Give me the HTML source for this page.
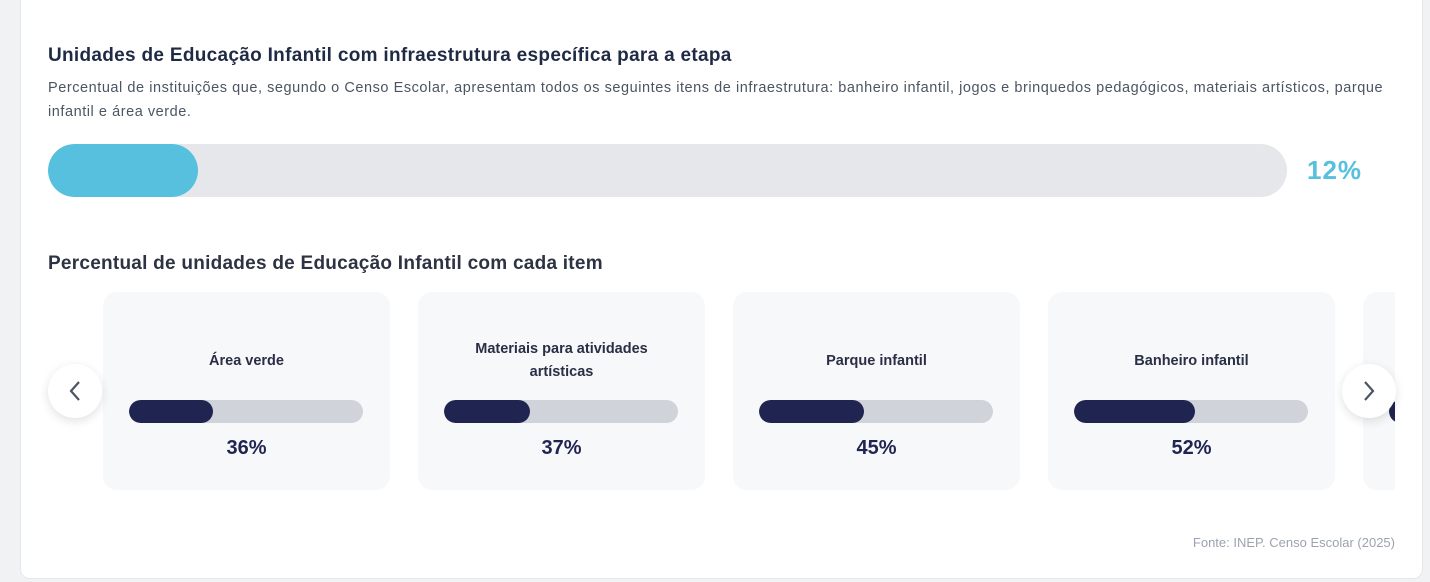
<!DOCTYPE html>
<html><head><meta charset="utf-8"><style>
*{box-sizing:border-box;margin:0;padding:0}
body{width:1430px;height:582px;background:#f1f2f4;font-family:"Liberation Sans",sans-serif;position:relative;overflow:hidden}
.card{position:absolute;left:20px;top:-20px;width:1403px;height:599px;background:#fff;border:1px solid #e5e7eb;border-radius:10px}
h1{position:absolute;left:48px;top:45px;font-size:19px;font-weight:bold;color:#1f2a44;white-space:nowrap;letter-spacing:0.3px}
.sub{position:absolute;left:48px;top:76px;width:1370px;font-size:14.5px;line-height:24px;color:#4b5563;letter-spacing:0.55px;white-space:nowrap}
.big{position:absolute;left:48px;top:144px;width:1239px;height:53px;border-radius:27px;background:#e5e7eb;overflow:hidden}
.big div{width:150px;height:53px;border-radius:27px;background:#56c0de}
.pct{position:absolute;left:1307px;top:155px;font-size:26px;font-weight:bold;color:#56c0de;letter-spacing:1px}
h2{position:absolute;left:48px;top:253px;font-size:19px;font-weight:bold;color:#2d3342;white-space:nowrap;letter-spacing:0.25px}
.clip{position:absolute;left:103px;top:292px;width:1292px;height:198px;overflow:hidden}
.it{position:absolute;top:0;width:287px;height:198px;background:#f7f8fa;border-radius:14px}
.t{position:absolute;left:0;width:287px;text-align:center;font-size:14.5px;font-weight:bold;color:#2a2f45;line-height:23px}
.bar{position:absolute;left:26px;top:108px;width:234px;height:23px;border-radius:12px;background:#d1d3db;overflow:hidden}
.bar div{height:23px;border-radius:12px;background:#1f2550}
.v{position:absolute;left:0;width:287px;top:145px;text-align:center;font-size:20px;font-weight:bold;color:#1f2550}
.btn{position:absolute;width:54px;height:54px;border-radius:50%;background:#fff;box-shadow:0 3px 10px rgba(0,0,0,.12);display:flex;align-items:center;justify-content:center}
.src{position:absolute;right:35px;top:535px;font-size:13px;color:#9ca3af}
</style></head><body>
<div class="card"></div>
<h1>Unidades de Educação Infantil com infraestrutura específica para a etapa</h1>
<div class="sub">Percentual de instituições que, segundo o Censo Escolar, apresentam todos os seguintes itens de infraestrutura: banheiro infantil, jogos e brinquedos pedagógicos, materiais artísticos, parque<br>infantil e área verde.</div>
<div class="big"><div></div></div>
<div class="pct">12%</div>
<h2>Percentual de unidades de Educação Infantil com cada item</h2>
<div class="clip">
 <div class="it" style="left:0"><div class="t" style="top:58px">Área verde</div><div class="bar"><div style="width:84px"></div></div><div class="v">36%</div></div>
 <div class="it" style="left:315px"><div class="t" style="top:46px">Materiais para atividades<br>artísticas</div><div class="bar"><div style="width:86px"></div></div><div class="v">37%</div></div>
 <div class="it" style="left:630px"><div class="t" style="top:58px">Parque infantil</div><div class="bar"><div style="width:105px"></div></div><div class="v">45%</div></div>
 <div class="it" style="left:945px"><div class="t" style="top:58px">Banheiro infantil</div><div class="bar"><div style="width:121px"></div></div><div class="v">52%</div></div>
 <div class="it" style="left:1260px"><div class="t" style="top:58px">Jogos</div><div class="bar"><div style="width:140px"></div></div><div class="v">60%</div></div>
</div>
<div class="btn" style="left:48px;top:364px"><svg width="14" height="22" viewBox="0 0 14 22"><path d="M11 2 L3 11 L11 20" fill="none" stroke="#4b5563" stroke-width="2.2"/></svg></div>
<div class="btn" style="left:1342px;top:364px"><svg width="14" height="22" viewBox="0 0 14 22"><path d="M3 2 L11 11 L3 20" fill="none" stroke="#4b5563" stroke-width="2.2"/></svg></div>
<div class="src">Fonte: INEP. Censo Escolar (2025)</div>
</body></html>
